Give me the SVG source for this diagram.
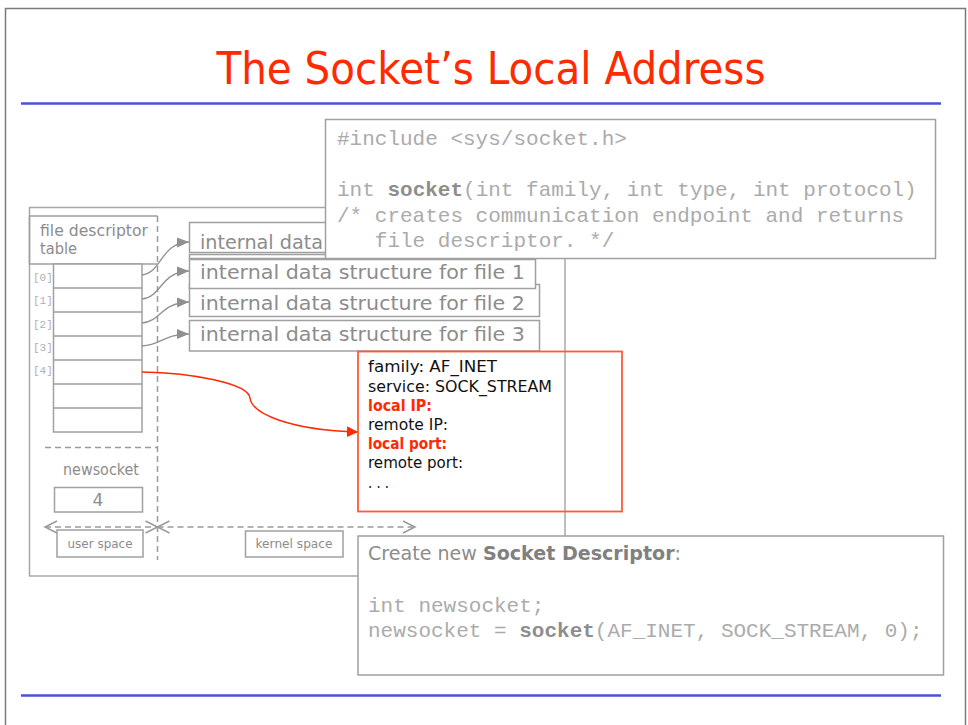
<svg xmlns="http://www.w3.org/2000/svg" width="968" height="725" viewBox="0 0 968 725">
<defs>
<style>
.sketch{font-family:"DejaVu Sans","Noto Sans",sans-serif;}
.mono{font-family:"Liberation Mono","DejaVu Sans Mono",monospace;}
.gtxt{fill:#8c8c8c;}
.code{fill:#ababab;font-size:21px;}
.bold{font-weight:bold;fill:#8e8e8e;}
.box{fill:#fff;stroke:#a0a0a0;stroke-width:1.5;}
.line{fill:none;stroke:#a0a0a0;stroke-width:1.5;}
.dash{fill:none;stroke:#9a9a9a;stroke-width:1.5;stroke-dasharray:6 4;}
.conn{fill:none;stroke:#909090;stroke-width:1.3;}
.blue{stroke:#4a52d4;stroke-width:2.5;}
.rtxt{font-size:16px;fill:#111;}
.red{fill:#ff2a00;font-weight:bold;}
</style>
<marker id="ga" markerUnits="userSpaceOnUse" markerWidth="14" markerHeight="12" refX="12" refY="5" orient="auto">
<path d="M0,0 L12,5 L0,10 Z" fill="#909090"/>
</marker>
<marker id="ra" markerUnits="userSpaceOnUse" markerWidth="14" markerHeight="12" refX="11" refY="5.5" orient="auto">
<path d="M0,0 L11,5.5 L0,11 Z" fill="#ff2a00"/>
</marker>
<marker id="oa" markerUnits="userSpaceOnUse" markerWidth="16" markerHeight="16" refX="13" refY="7" orient="auto-start-reverse">
<path d="M1,1 L13,7 L1,13" fill="none" stroke="#9a9a9a" stroke-width="1.5"/>
</marker>
</defs>

<!-- page frame -->
<g id="page">
<path d="M5.5,725 L5.5,8.5 L965.5,8.5 L965.5,725" fill="none" stroke="#7a7a7a" stroke-width="1.5"/>
<line x1="21" y1="103.5" x2="941" y2="103.5" class="blue"/>
<line x1="21" y1="695.5" x2="941" y2="695.5" class="blue"/>
<text id="title" x="491" y="84" text-anchor="middle" class="sketch" font-size="44" fill="#ff2a00" textLength="549" lengthAdjust="spacingAndGlyphs">The Socket’s Local Address</text>
</g>

<!-- process frame -->
<g id="frame">
<rect x="29.5" y="207.5" width="535.5" height="368.5" fill="none" stroke="#a8a8a8" stroke-width="1.5"/>
</g>

<!-- file descriptor table -->
<g id="fdtable">
<path d="M157.5,216 L29.5,216 L29.5,264 L157.5,264" class="line"/>
<line x1="157.5" y1="216" x2="157.5" y2="560" class="dash"/>
<text x="40" y="236" class="sketch gtxt" font-size="15" textLength="108" lengthAdjust="spacingAndGlyphs">file descriptor</text>
<text x="40" y="254" class="sketch gtxt" font-size="15" textLength="37" lengthAdjust="spacingAndGlyphs">table</text>
<rect x="53.5" y="264" width="88.5" height="168" fill="#fff" stroke="#a0a0a0" stroke-width="1.5"/>
<path d="M53.5,288 H142 M53.5,312 H142 M53.5,336 H142 M53.5,360 H142 M53.5,384 H142 M53.5,408 H142" class="line"/>
<g class="mono" font-size="11" fill="#b0b0b0">
<text x="33" y="281">[0]</text>
<text x="33" y="304">[1]</text>
<text x="33" y="328">[2]</text>
<text x="33" y="351">[3]</text>
<text x="33" y="374">[4]</text>
</g>
</g>

<!-- internal data structures -->
<g id="file3">
<rect x="189.5" y="320.5" width="350" height="30.5" class="box"/>
<text x="200" y="341" class="sketch gtxt" font-size="19" textLength="325" lengthAdjust="spacingAndGlyphs">internal data structure for file 3</text>
</g>
<g id="file2">
<rect x="189.5" y="284.5" width="350" height="32" class="box"/>
<text x="200" y="310" class="sketch gtxt" font-size="19" textLength="325" lengthAdjust="spacingAndGlyphs">internal data structure for file 2</text>
</g>
<g id="file1">
<rect x="189.5" y="259.5" width="346" height="29" class="box"/>
<text x="200" y="279" class="sketch gtxt" font-size="19" textLength="325" lengthAdjust="spacingAndGlyphs">internal data structure for file 1</text>
</g>
<g id="file0">
<rect x="189.5" y="254.5" width="346" height="4" class="box"/>
<rect x="189.5" y="222.5" width="346" height="30" class="box"/>
<text x="200" y="249" class="sketch gtxt" font-size="19" textLength="123" lengthAdjust="spacingAndGlyphs">internal data</text>
</g>

<!-- socket() prototype -->
<g id="proto">
<rect x="325.5" y="119.5" width="610" height="139" class="box"/>
<text class="mono code" xml:space="preserve"><tspan x="337" y="145">#include &lt;sys/socket.h&gt;</tspan><tspan x="337" y="196">int <tspan class="bold">socket</tspan>(int family, int type, int protocol)</tspan><tspan x="337" y="222">/* creates communication endpoint and returns</tspan><tspan x="337" y="247">   file descriptor. */</tspan></text>
</g>

<!-- connectors -->
<g id="connectors">
<path d="M142,275 C162,273 160,243 189,242" class="conn" marker-end="url(#ga)"/>
<path d="M142,299 C162,297 160,272 189,271" class="conn" marker-end="url(#ga)"/>
<path d="M142,323 C162,321 160,303 189,302" class="conn" marker-end="url(#ga)"/>
<path d="M142,346 C162,345 163,334 189,334" class="conn" marker-end="url(#ga)"/>
<path d="M142,372 C192,373 248,383 250,398 C252,414 290,430 358,432" fill="none" stroke="#ff2a00" stroke-width="1.5" marker-end="url(#ra)"/>
<line x1="45" y1="527" x2="157.5" y2="527" class="dash" marker-start="url(#oa)" marker-end="url(#oa)"/>
<line x1="157.5" y1="527" x2="415" y2="527" class="dash" marker-start="url(#oa)" marker-end="url(#oa)"/>
</g>

<!-- socket structure -->
<g id="sockstruct">
<rect x="358" y="351.5" width="264" height="160" fill="none" stroke="#ff5a3c" stroke-width="1.8"/>
<g class="sketch rtxt">
<text x="368" y="372" textLength="129" lengthAdjust="spacingAndGlyphs">family: AF_INET</text>
<text x="368" y="392" textLength="184" lengthAdjust="spacingAndGlyphs">service: SOCK_STREAM</text>
<text x="368" y="411" class="red" textLength="64" lengthAdjust="spacingAndGlyphs">local IP:</text>
<text x="368" y="430" textLength="80" lengthAdjust="spacingAndGlyphs">remote IP:</text>
<text x="368" y="449" class="red" textLength="79" lengthAdjust="spacingAndGlyphs">local port:</text>
<text x="368" y="468" textLength="95" lengthAdjust="spacingAndGlyphs">remote port:</text>
<text x="368" y="488" textLength="21" lengthAdjust="spacingAndGlyphs">. . .</text>
</g>
</g>

<!-- newsocket variable -->
<g id="newsocket">
<line x1="45" y1="447.5" x2="157.5" y2="447.5" class="dash"/>
<text x="101" y="475" text-anchor="middle" class="sketch gtxt" font-size="16" textLength="76" lengthAdjust="spacingAndGlyphs">newsocket</text>
<rect x="54.5" y="487.5" width="88" height="24.5" class="box"/>
<text x="98" y="506" text-anchor="middle" class="sketch gtxt" font-size="17">4</text>
</g>

<g id="userspace">
<rect x="57" y="530" width="86" height="27" class="box"/>
<text x="100" y="548" text-anchor="middle" class="sketch gtxt" font-size="13" textLength="65" lengthAdjust="spacingAndGlyphs">user space</text>
</g>
<g id="kernelspace">
<rect x="245.5" y="531" width="97.5" height="26" class="box"/>
<text x="294" y="548" text-anchor="middle" class="sketch gtxt" font-size="13" textLength="77" lengthAdjust="spacingAndGlyphs">kernel space</text>
</g>

<!-- create socket descriptor -->
<g id="create">
<rect x="358" y="536" width="585.5" height="139" class="box"/>
<text x="368" y="560" class="sketch" font-size="19" fill="#8c8c8c" textLength="313" lengthAdjust="spacingAndGlyphs">Create new <tspan font-weight="bold" fill="#808080">Socket Descriptor</tspan>:</text>
<text class="mono code"><tspan x="368" y="612">int newsocket;</tspan><tspan x="368" y="637">newsocket = <tspan class="bold">socket</tspan>(AF_INET, SOCK_STREAM, 0);</tspan></text>
</g>
</svg>
